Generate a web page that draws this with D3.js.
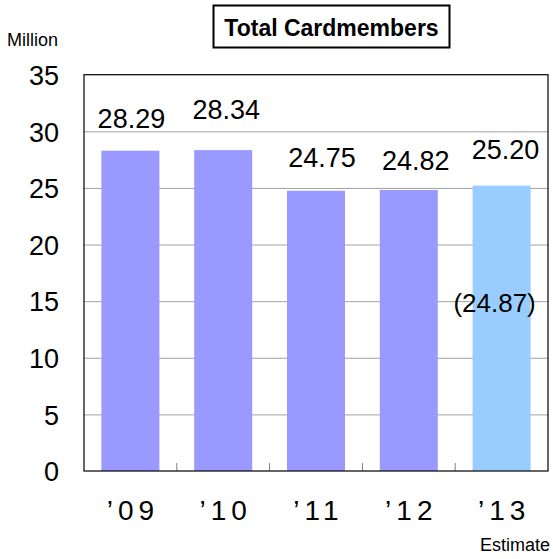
<!DOCTYPE html>
<meta charset="utf-8">
<style>
    body { margin: 0; background: #fff; }
    svg { font-family: "Liberation Sans", Arial, sans-serif; }
    .grid line { stroke: #a0a0a0; stroke-width: 1; }
    .grid path { display: none; }
    .y.axis path, .y.axis line { display: none; }
    .y.axis text { font-size: 27px; fill: #000; }
    .frame { fill: none; stroke: #000; stroke-width: 1.2; }
    .sep { stroke: #808080; stroke-width: 1; }
</style>
<body>
<script src="https://cdn.jsdelivr.net/npm/d3@7"></script>
<script>

    var years = ["09", "10", "11", "12", "13"],
        members = [28.29, 28.34, 24.75, 24.82, 25.20],
        barColors = ["#9999ff", "#9999ff", "#9999ff", "#9999ff", "#99ccff"],
        yTicks = [0, 5, 10, 15, 20, 25, 30, 35];

    // value label nudges as they sit in the original slide
    var labelDx = [1, 3, 6, 7, 4],
        labelDy = [-23, -31, -24, -20, -27];

    var estimateNote = "(24.87)";

    var margin = {top: 74.7, right: 5, bottom: 88, left: 84},
        W = 553, H = 559,
        width = W - margin.left - margin.right,
        height = H - margin.top - margin.bottom;

    var x = d3.scaleBand()
            .domain(years)
            .range([0, width])
            .paddingInner(0.375)
            .paddingOuter(0.1875);

    var y = d3.scaleLinear()
            .domain([0, 35])
            .range([height, 0]);

    var svg = d3.select("body").append("svg")
            .attr("width", W)
            .attr("height", H);

    // title box
    var title = svg.append("g");
    title.append("rect")
            .attr("x", 213.5).attr("y", 5.5)
            .attr("width", 236).attr("height", 42)
            .attr("fill", "#fff").attr("stroke", "#000").attr("stroke-width", 2);
    title.append("text")
            .attr("x", 331.5).attr("y", 36)
            .attr("text-anchor", "middle")
            .style("font-size", "23px").style("font-weight", "bold")
            .text("Total Cardmembers");

    svg.append("text")
            .attr("x", 7).attr("y", 46)
            .style("font-size", "18px")
            .text("Million");

    svg.append("text")
            .attr("x", 550).attr("y", 551)
            .attr("text-anchor", "end")
            .style("font-size", "18px")
            .text("Estimate");

    var g = svg.append("g")
            .attr("transform", "translate(" + margin.left + "," + margin.top + ")");

    g.append("g")
            .attr("class", "grid")
            .call(d3.axisLeft(y).tickValues(yTicks.slice(1, -1)).tickSize(-width).tickFormat(""));

    g.selectAll("rect.bar")
            .data(members)
        .enter().append("rect")
            .attr("class", "bar")
            .attr("x", function(d, i) { return x(years[i]); })
            .attr("y", function(d) { return y(d); })
            .attr("width", x.bandwidth())
            .attr("height", function(d) { return y(0) - y(d); })
            .attr("fill", function(d, i) { return barColors[i]; });

    // short separators between categories, rising from the base line
    var gap = x.step() * x.paddingInner() / 2;
    g.selectAll("line.sep")
            .data(years.slice(0, -1))
        .enter().append("line")
            .attr("class", "sep")
            .attr("x1", function(d) { return x(d) + x.bandwidth() + gap; })
            .attr("x2", function(d) { return x(d) + x.bandwidth() + gap; })
            .attr("y1", y(0))
            .attr("y2", y(0) - 8);

    g.append("rect")
            .attr("class", "frame")
            .attr("x", 0).attr("y", 0)
            .attr("width", width).attr("height", height);

    g.append("g")
            .attr("class", "y axis")
            .call(d3.axisLeft(y).tickValues(yTicks).tickSize(0).tickPadding(25))
        .selectAll("text")
            .attr("dy", "0.36em");

    g.selectAll("text.value")
            .data(members)
        .enter().append("text")
            .attr("class", "value")
            .attr("x", function(d, i) { return x(years[i]) + x.bandwidth() / 2 + labelDx[i]; })
            .attr("y", function(d, i) { return y(d) + labelDy[i]; })
            .attr("text-anchor", "middle")
            .style("font-size", "27px")
            .text(function(d) { return d.toFixed(2); });

    g.append("text")
            .attr("x", x("13") + x.bandwidth() / 2 - 7)
            .attr("y", y(15) + 11)
            .attr("text-anchor", "middle")
            .style("font-size", "26px")
            .text(estimateNote);

    g.selectAll("text.year")
            .data(years)
        .enter().append("text")
            .attr("class", "year")
            .attr("x", function(d) { return x(d) + x.bandwidth() / 2 + 2.5; })
            .attr("y", y(0) + 49)
            .attr("text-anchor", "middle")
            .style("font-size", "28px")
            .style("letter-spacing", "5px")
            .text(function(d) { return "\u2019" + d; });

</script>
